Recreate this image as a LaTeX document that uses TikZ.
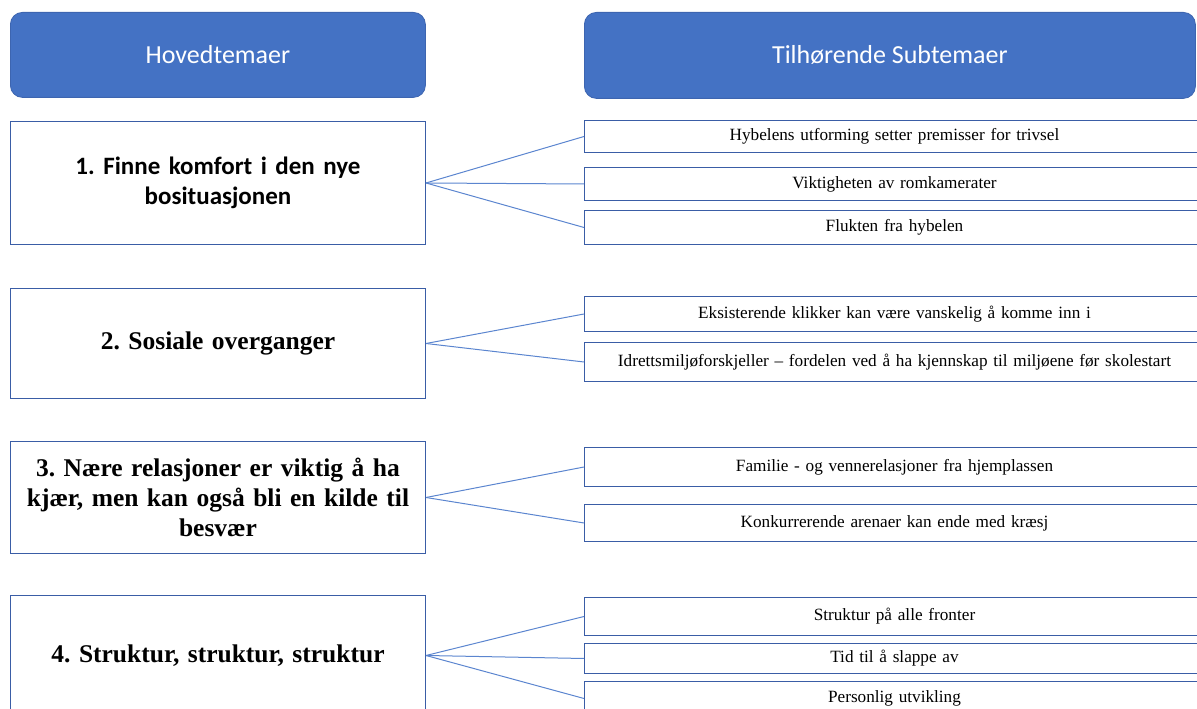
\documentclass[tikz,border=0pt]{standalone}
\usepackage{fontspec}
\setmainfont{Liberation Serif}
\newfontfamily\calfont{Carlito}
\definecolor{hdrblue}{HTML}{4472C4}
\definecolor{hdrborder}{HTML}{3D65B0}
\definecolor{boxborder}{HTML}{3A5DA6}
\definecolor{linkblue}{HTML}{5B85CF}
\frenchspacing
\begin{document}
\begin{tikzpicture}[x=1pt,y=1pt,
 header/.style={draw=hdrborder, fill=hdrblue, rounded corners=12pt, line width=0.8pt, text=white,
   font=\calfont\fontsize{26}{31}\selectfont, anchor=north west, inner sep=0pt},
 mainbox/.style={draw=boxborder, line width=1pt, minimum width=415pt, text width=405pt, align=center,
   font=\bfseries\fontsize{25.5}{30}\selectfont, anchor=north west, inner sep=0pt},
 subbox/.style={draw=boxborder, line width=1pt, minimum width=620pt, text width=610pt, align=center,
   font=\fontsize{17.2}{20}\selectfont, anchor=north west, inner sep=0pt},
 link/.style={draw=linkblue, line width=1pt}]
\useasboundingbox (0,0) rectangle (1197,709);

% headers
\node[header, minimum width=415pt, minimum height=85pt] (h1) at (10,697) {Hovedtemaer};
\node[header, minimum width=611pt, minimum height=86pt] (h2) at (584,697) {Tilhørende Subtemaer};

% main boxes
\node[mainbox, minimum height=123pt] (m1) at (10,588)
  {\calfont\bfseries\fontsize{25}{33}\selectfont 1. Finne komfort i den nye\\ bosituasjonen};
\node[mainbox, minimum height=110pt] (m2) at (10,421) {2. Sosiale overganger};
\node[mainbox, minimum height=112pt] (m3) at (10,268)
  {3. Nære relasjoner er viktig å ha\\ kjær, men kan også bli en kilde til\\ besvær};
\node[mainbox, minimum height=120pt] (m4) at (10,114) {4. Struktur, struktur, struktur};

% sub boxes
\node[subbox, minimum height=32pt] (s1a) at (584,589) {Hybelens utforming setter premisser for trivsel};
\node[subbox, minimum height=33pt] (s1b) at (584,542) {Viktigheten av romkamerater};
\node[subbox, minimum height=34pt] (s1c) at (584,499) {Flukten fra hybelen};

\node[subbox, minimum height=35pt] (s2a) at (584,413) {Eksisterende klikker kan være vanskelig å komme inn i};
\node[subbox, minimum height=39pt] (s2b) at (584,367) {Idrettsmiljøforskjeller – fordelen ved å ha kjennskap til miljøene før skolestart};

\node[subbox, minimum height=39pt] (s3a) at (584,262) {Familie - og vennerelasjoner fra hjemplassen};
\node[subbox, minimum height=37pt] (s3b) at (584,205) {Konkurrerende arenaer kan ende med kræsj};

\node[subbox, minimum height=38pt] (s4a) at (584,112) {Struktur på alle fronter};
\node[subbox, minimum height=30pt] (s4b) at (584,66) {Tid til å slappe av};
\node[subbox, minimum height=34pt] (s4c) at (584,28) {Personlig utvikling};

% connectors
\foreach \s in {s1a,s1b,s1c} \draw[link] (m1.east) -- (\s.west);
\foreach \s in {s2a,s2b} \draw[link] (m2.east) -- (\s.west);
\foreach \s in {s3a,s3b} \draw[link] (m3.east) -- (\s.west);
\foreach \s in {s4a,s4b,s4c} \draw[link] (m4.east) -- (\s.west);
\end{tikzpicture}
\end{document}
